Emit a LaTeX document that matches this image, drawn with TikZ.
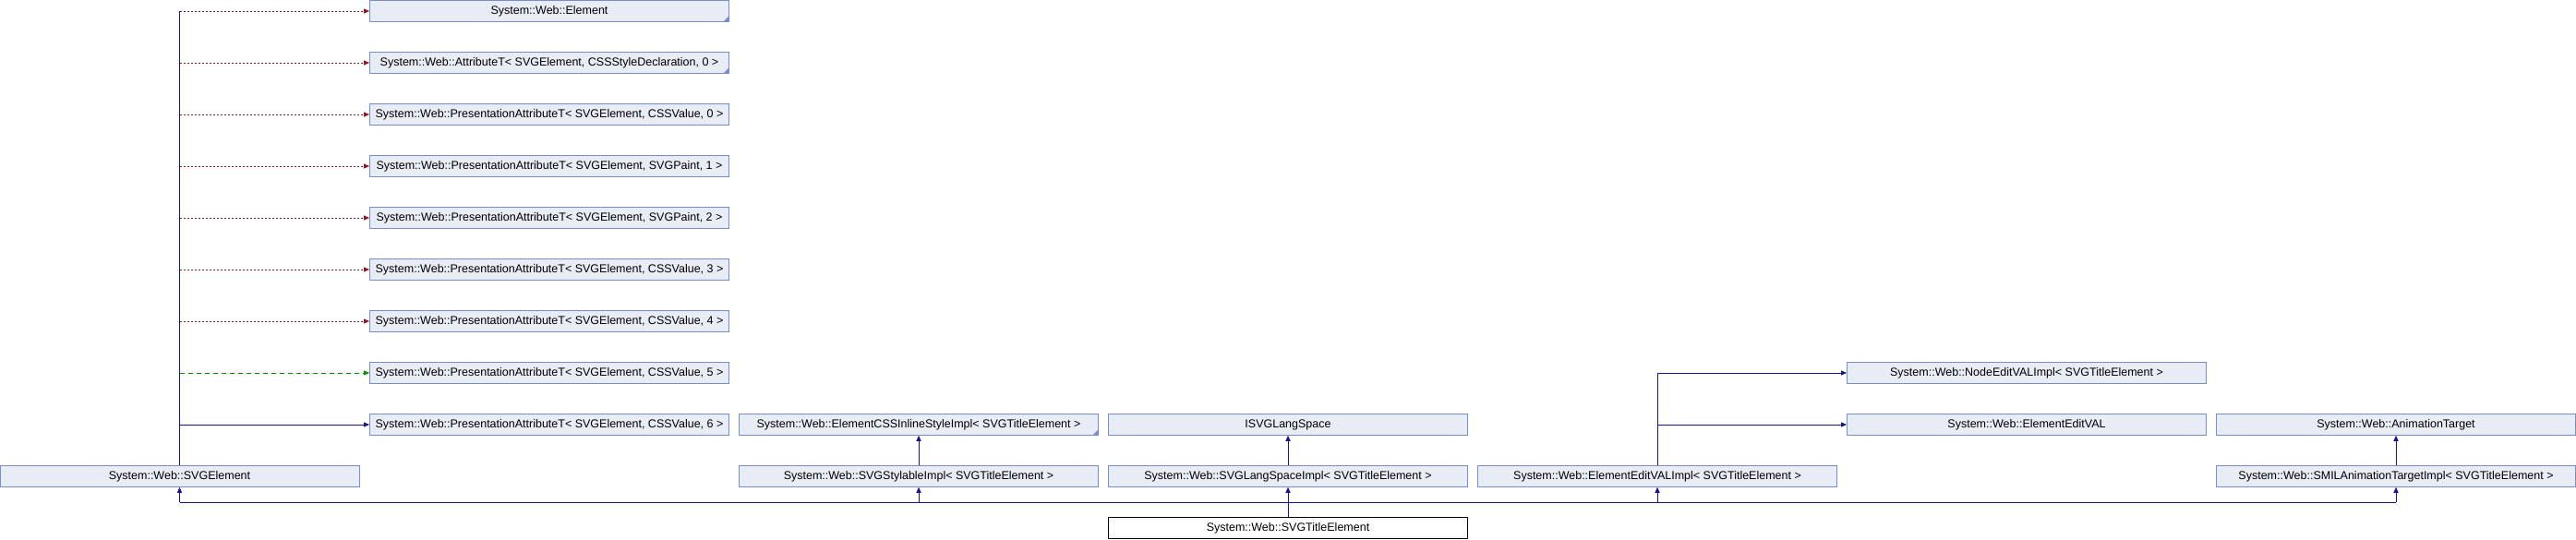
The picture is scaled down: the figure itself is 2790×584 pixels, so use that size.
\documentclass[tikz,border=0pt]{standalone}
\usepackage{fontspec}
\setmainfont{Liberation Sans}
\usepackage{tikz}
\usetikzlibrary{arrows.meta,positioning}

\definecolor{boxfill}{RGB}{232,236,245}
\definecolor{boxline}{RGB}{122,141,203}
\definecolor{pubblue}{RGB}{22,22,140}
\definecolor{privred}{RGB}{139,26,26}
\definecolor{protgreen}{RGB}{0,140,0}

\begin{document}
\begin{tikzpicture}[
    x=1pt,y=-1pt,
    cls/.style={draw=boxline,fill=boxfill,line width=0.9pt,minimum width=389pt,minimum height=22.6pt,
        inner sep=0pt,font=\fontsize{12.5}{14}\selectfont},
    part/.style={cls,path picture={\fill[boxline] ([xshift=-6pt]path picture bounding box.south east)
        -- (path picture bounding box.south east) -- ([yshift=6pt]path picture bounding box.south east) -- cycle;}},
    main/.style={cls,draw=black,fill=white},
    link/.style={draw=pubblue,line width=1pt},
    pub/.style={-{Triangle[length=6pt,width=5pt]},draw=pubblue,line width=1pt},
    priv/.style={-{Triangle[length=6pt,width=5pt]},draw=privred,line width=1pt,dash pattern=on 2pt off 2pt},
    prot/.style={-{Triangle[length=6pt,width=5pt]},draw=protgreen,line width=1pt,dash pattern=on 5pt off 4pt}
]
\useasboundingbox (0,0) rectangle (2790,584);

\node[part] (elem) at (595,12) {System::Web::Element};
\node[part] (attr) at (595,68) {System::Web::AttributeT< SVGElement, CSSStyleDeclaration, 0 >};
\node[cls] (pa0) at (595,124) {System::Web::PresentationAttributeT< SVGElement, CSSValue, 0 >};
\node[cls] (pa1) at (595,180) {System::Web::PresentationAttributeT< SVGElement, SVGPaint, 1 >};
\node[cls] (pa2) at (595,236) {System::Web::PresentationAttributeT< SVGElement, SVGPaint, 2 >};
\node[cls] (pa3) at (595,292) {System::Web::PresentationAttributeT< SVGElement, CSSValue, 3 >};
\node[cls] (pa4) at (595,348) {System::Web::PresentationAttributeT< SVGElement, CSSValue, 4 >};
\node[cls] (pa5) at (595,404) {System::Web::PresentationAttributeT< SVGElement, CSSValue, 5 >};
\node[cls] (pa6) at (595,460) {System::Web::PresentationAttributeT< SVGElement, CSSValue, 6 >};
\node[cls] (svgel) at (194.5,516) {System::Web::SVGElement};

\node[part] (inline) at (995,460) {System::Web::ElementCSSInlineStyleImpl< SVGTitleElement >};
\node[cls] (stylable) at (995,516) {System::Web::SVGStylableImpl< SVGTitleElement >};
\node[cls] (langspace) at (1395,460) {ISVGLangSpace};
\node[cls] (langimpl) at (1395,516) {System::Web::SVGLangSpaceImpl< SVGTitleElement >};
\node[main] (title) at (1395,572) {System::Web::SVGTitleElement};
\node[cls] (editimpl) at (1795,516) {System::Web::ElementEditVALImpl< SVGTitleElement >};
\node[cls] (nodeedit) at (2195,404) {System::Web::NodeEditVALImpl< SVGTitleElement >};
\node[cls] (edit) at (2195,460) {System::Web::ElementEditVAL};
\node[cls] (anim) at (2595,460) {System::Web::AnimationTarget};
\node[cls] (smil) at (2595,516) {System::Web::SMILAnimationTargetImpl< SVGTitleElement >};

% bus under the second row
\coordinate (bus) at (1395,544);
\draw[link] (svgel.south |- bus) -- (smil.south |- bus);
\draw[pub] (title.north) -- (langimpl.south);
\draw[pub] (svgel.south |- bus) -- (svgel.south);
\draw[pub] (stylable.south |- bus) -- (stylable.south);
\draw[pub] (editimpl.south |- bus) -- (editimpl.south);
\draw[pub] (smil.south |- bus) -- (smil.south);

\draw[pub] (stylable) -- (inline);
\draw[pub] (langimpl) -- (langspace);
\draw[pub] (smil) -- (anim);
\draw[pub] (editimpl.north) |- (nodeedit.west);
\draw[pub] (editimpl.north |- edit.west) -- (edit.west);

% trunk above SVGElement
\draw[link] (svgel.north) -- (svgel.north |- elem.west);
\draw[priv] (svgel.north |- elem.west) -- (elem.west);
\draw[priv] (svgel.north |- attr.west) -- (attr.west);
\draw[priv] (svgel.north |- pa0.west) -- (pa0.west);
\draw[priv] (svgel.north |- pa1.west) -- (pa1.west);
\draw[priv] (svgel.north |- pa2.west) -- (pa2.west);
\draw[priv] (svgel.north |- pa3.west) -- (pa3.west);
\draw[priv] (svgel.north |- pa4.west) -- (pa4.west);
\draw[prot] (svgel.north |- pa5.west) -- (pa5.west);
\draw[pub] (svgel.north |- pa6.west) -- (pa6.west);
\end{tikzpicture}
\end{document}
